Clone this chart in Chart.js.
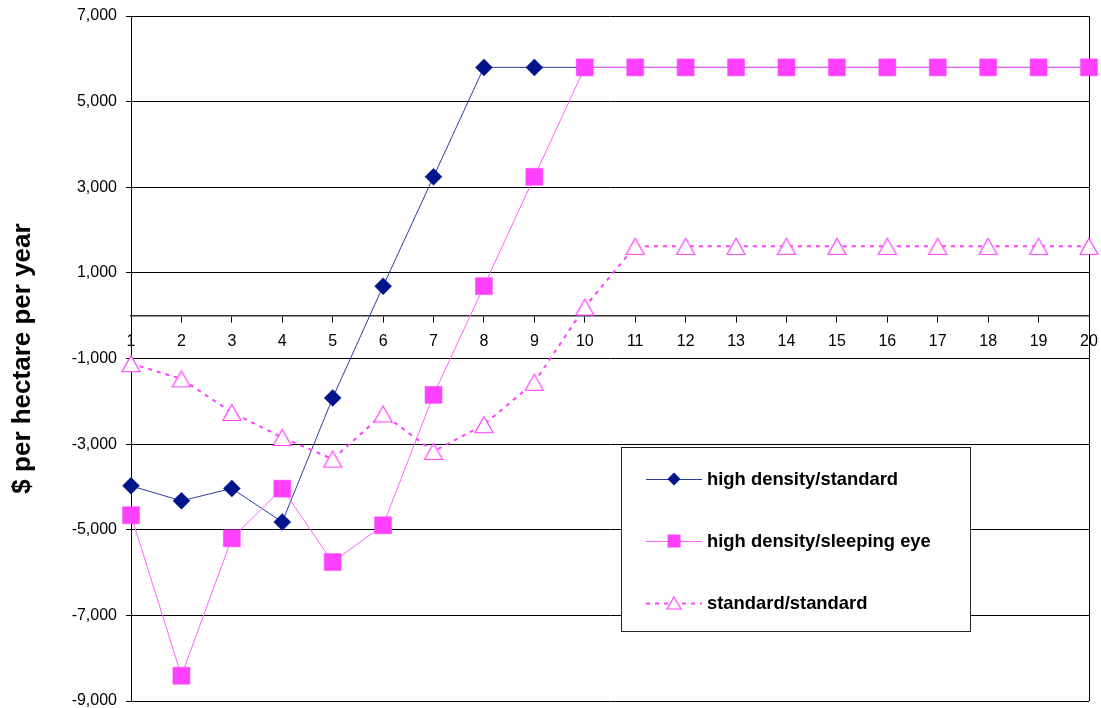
<!DOCTYPE html>
<html><head><meta charset="utf-8">
<script src="https://cdn.jsdelivr.net/npm/chart.js@4/dist/chart.umd.min.js"></script>
<style>html,body{margin:0;padding:0;background:#fff}#wrap{width:1101px;height:708px}</style>
</head><body><div id="wrap"><canvas id="c" width="1101" height="708"></canvas></div>
<script>
const years = ['1','2','3','4','5','6','7','8','9','10','11','12','13','14','15','16','17','18','19','20'];
const highDensityStandard = [-3975,-4325,-4035,-4820,-1920,690,3245,5800,5800,5800,5800,5800,5800,5800,5800,5800,5800,5800,5800,5800];
const highDensitySleepingEye = [-4660,-8410,-5200,-4040,-5755,-4895,-1850,690,3245,5800,5800,5800,5800,5800,5800,5800,5800,5800,5800,5800];
const standardStandard = [-1120,-1475,-2260,-2845,-3350,-2295,-3170,-2545,-1555,200,1620,1620,1620,1620,1620,1620,1620,1620,1620,1620];
const seriesNames = ['high density/standard','high density/sleeping eye','standard/standard'];
const yMin = -9000, yMax = 7000, yStep = 2000;
const yTitle = '$ per hectare per year';

const FONT = '"Liberation Sans", Arial, sans-serif';
const NAVY = '#00148c', NAVY_LINE = '#2c3c9e', MAG = '#ff40ff', MAG_LINE = '#ff60ff';

// open triangle marker centred on its bounding box
function triCanvas(w, h, stroke) {
  const c = document.createElement('canvas');
  c.width = w + 4; c.height = h + 4;
  const g = c.getContext('2d');
  const cx = c.width / 2, top = 2, bot = 2 + h;
  g.beginPath();
  g.moveTo(cx, top + 0.5); g.lineTo(cx + w / 2, bot - 0.5); g.lineTo(cx - w / 2, bot - 0.5); g.closePath();
  g.fillStyle = '#fff'; g.fill();
  g.strokeStyle = stroke; g.lineWidth = 1.2; g.stroke();
  return c;
}
const triBig = triCanvas(18, 17, MAG);
const triSmall = triCanvas(14, 13, MAG);

function zeroPad(s) { s.paddingLeft = 0; s.paddingRight = 0; s.paddingTop = 0; s.paddingBottom = 0; }

const frame = {
  id: 'frame',
  beforeDatasetsDraw(chart) {
    const a = chart.chartArea, ctx = chart.ctx;
    ctx.save();
    ctx.strokeStyle = '#000'; ctx.lineWidth = 1;
    ctx.beginPath();
    ctx.moveTo(Math.round(a.right) + 0.5, a.top); ctx.lineTo(Math.round(a.right) + 0.5, a.bottom);
    ctx.stroke();
    ctx.restore();
  }
};

const boxLegend = {
  id: 'boxLegend',
  afterDraw(chart) {
    const ctx = chart.ctx;
    const bx = 621.5, by = 447.5, bw = 349, bh = 184;
    ctx.save();
    ctx.fillStyle = '#fff'; ctx.fillRect(bx, by, bw, bh);
    ctx.strokeStyle = '#222'; ctx.lineWidth = 1; ctx.strokeRect(bx, by, bw, bh);
    chart.data.datasets.forEach((ds, i) => {
      const y = 479 + i * 62;
      ctx.save();
      ctx.strokeStyle = ds.borderColor; ctx.lineWidth = ds.borderWidth;
      ctx.setLineDash(ds.borderDash || []);
      ctx.beginPath(); ctx.moveTo(646, y + 0.5); ctx.lineTo(702, y + 0.5); ctx.stroke();
      ctx.restore();
      const mx = 674;
      ctx.fillStyle = ds.pointBackgroundColor; ctx.strokeStyle = ds.pointBorderColor;
      if (ds.pointStyle === 'rectRot') {
        const r = 6.5;
        ctx.beginPath(); ctx.moveTo(mx, y - r); ctx.lineTo(mx + r, y); ctx.lineTo(mx, y + r); ctx.lineTo(mx - r, y); ctx.closePath();
        ctx.fill();
      } else if (ds.pointStyle === 'rect') {
        ctx.fillRect(mx - 6.5, y - 6.5, 13, 13);
      } else {
        ctx.drawImage(triSmall, mx - triSmall.width / 2, y - triSmall.height / 2);
      }
      ctx.fillStyle = '#000';
      ctx.font = 'bold 18.4px ' + FONT;
      ctx.textBaseline = 'middle'; ctx.textAlign = 'left';
      ctx.fillText(ds.label, 707, y + 1);
    });
    ctx.restore();
  }
};

new Chart(document.getElementById('c'), {
  type: 'line',
  data: {
    labels: years,
    datasets: [
      { label: seriesNames[0], data: highDensityStandard, order: 3, clip: false,
        borderColor: NAVY_LINE, borderWidth: 1, pointStyle: 'rectRot', pointRadius: 8.5,
        pointBackgroundColor: NAVY, pointBorderColor: NAVY, pointBorderWidth: 0.5, tension: 0 },
      { label: seriesNames[1], data: highDensitySleepingEye, order: 2, clip: false,
        borderColor: MAG_LINE, borderWidth: 1, pointStyle: 'rect', pointRadius: 12,
        pointBackgroundColor: MAG, pointBorderColor: MAG, pointBorderWidth: 0.5, tension: 0 },
      { label: seriesNames[2], data: standardStandard, order: 1, clip: false,
        borderColor: MAG, borderWidth: 2, borderDash: [4, 5], pointStyle: triBig, pointRadius: 10,
        pointBackgroundColor: '#fff', pointBorderColor: MAG, pointBorderWidth: 1, tension: 0 }
    ]
  },
  options: {
    responsive: false,
    animation: false,
    events: [],
    layout: { autoPadding: false, padding: { top: 16, right: 12, bottom: 7, left: 0 } },
    plugins: { legend: { display: false }, tooltip: { enabled: false } },
    scales: {
      x: {
        type: 'category',
        position: { y: 0 },
        offset: false,
        afterFit: zeroPad,
        grid: { display: true, drawOnChartArea: false, drawTicks: true, tickLength: 6, color: '#000' },
        border: { display: true, color: '#333', width: 1.5 },
        ticks: { color: '#000', font: { family: FONT, size: 16 }, padding: 10, maxRotation: 0, autoSkip: false }
      },
      y: {
        min: yMin, max: yMax,
        afterFit(s) { s.width = 131; zeroPad(s); },
        grid: { color: '#000', lineWidth: 1, drawTicks: true, tickLength: 5 },
        border: { display: true, color: '#000', width: 1 },
        ticks: { stepSize: yStep, color: '#000', font: { family: FONT, size: 16 }, padding: 9,
          callback: v => v.toLocaleString('en-US') },
        title: { display: true, text: yTitle, color: '#000',
          font: { family: FONT, size: 26, weight: 'bold' }, padding: { top: 7, bottom: 0 } }
      }
    }
  },
  plugins: [frame, boxLegend]
});
</script>
</body></html>
